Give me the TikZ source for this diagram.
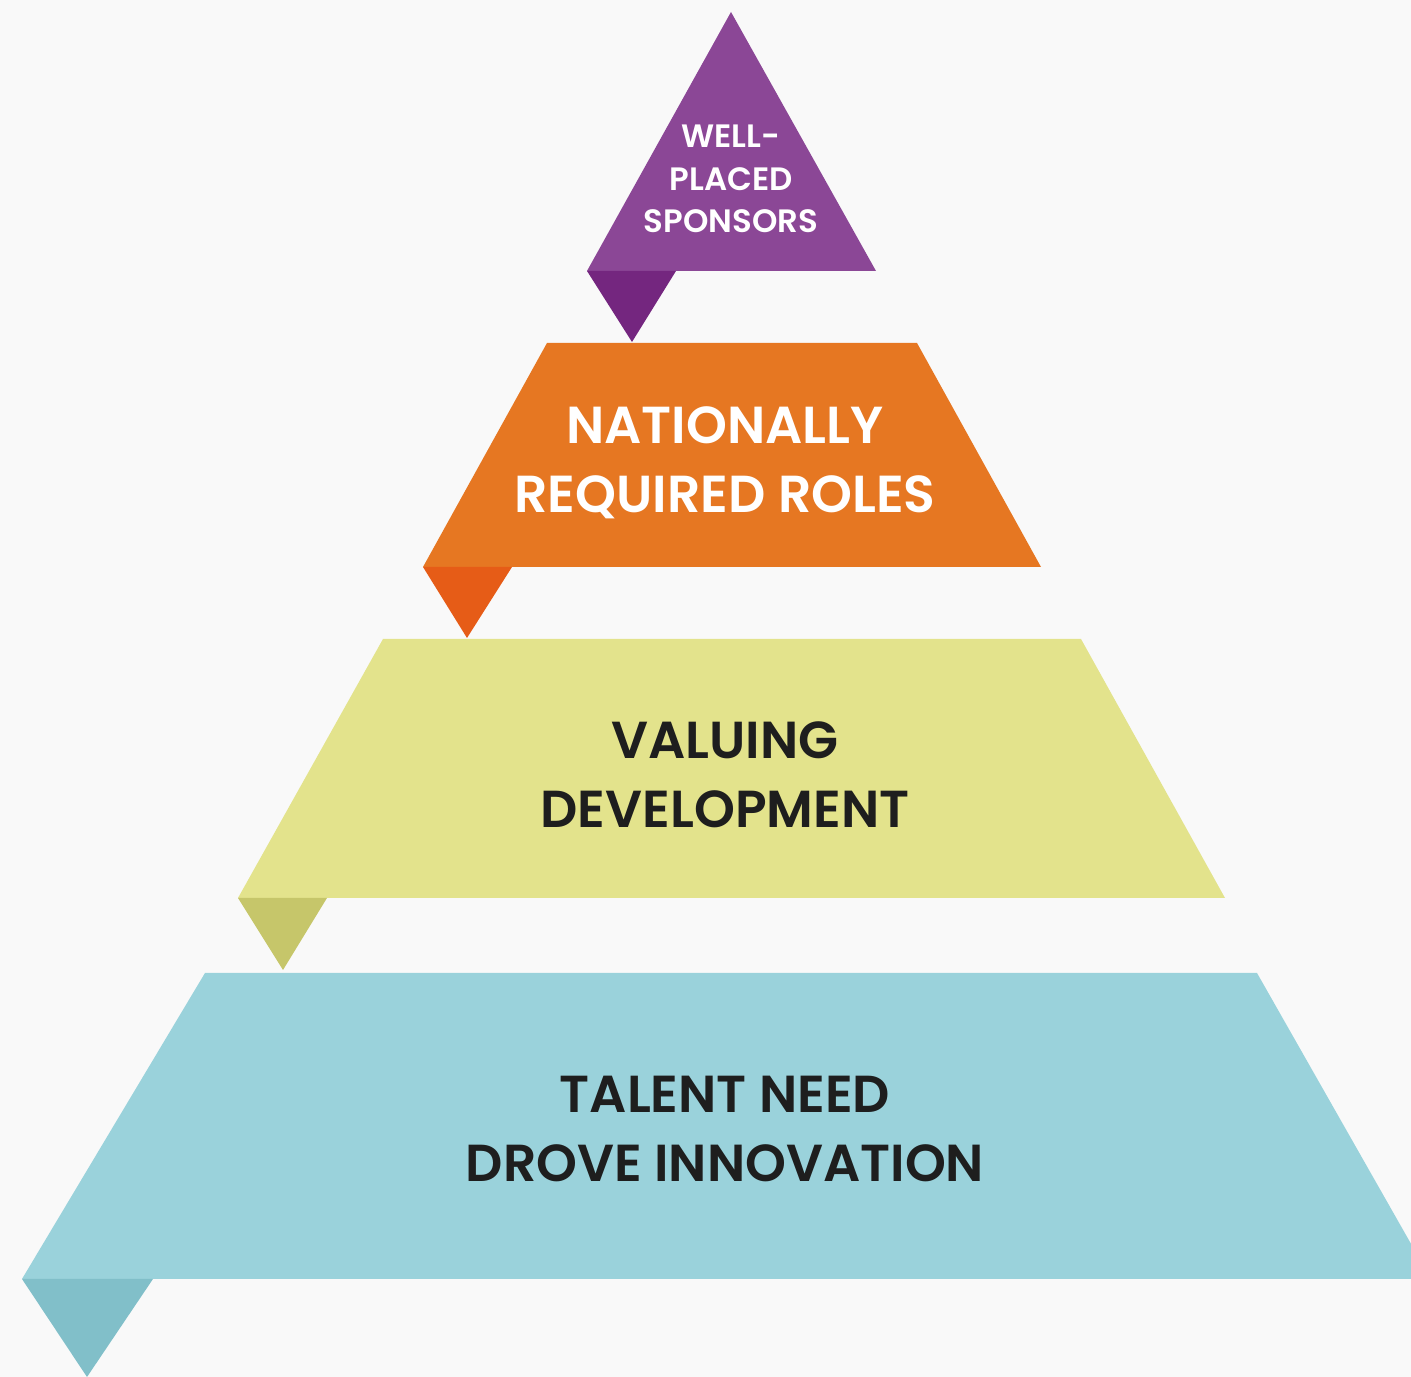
\documentclass[tikz,border=0pt]{standalone}
\usepackage{fontspec}
\setmainfont{Poppins}[BoldFont={Poppins SemiBold}]
\begin{document}
\begin{tikzpicture}[x=0.01cm,y=-0.01cm,
  lbl/.style={align=center,inner sep=0pt,font=\bfseries},
  bigtxt/.style={lbl,font=\fontsize{14.8}{19.6}\selectfont\bfseries}]
\definecolor{bg}{HTML}{F9F9F9}
\definecolor{purp}{HTML}{8B4796}
\definecolor{purpd}{HTML}{74267F}
\definecolor{orng}{HTML}{E67722}
\definecolor{orngd}{HTML}{E65C17}
\definecolor{yell}{HTML}{E3E38C}
\definecolor{yelld}{HTML}{C6C66A}
\definecolor{blu}{HTML}{9AD2DB}
\definecolor{blud}{HTML}{81BFC9}
\definecolor{ink}{HTML}{1E1E1E}
\fill[bg] (0,0) rectangle (1411,1377);
\useasboundingbox (0,0) rectangle (1411,1377);
% top triangle with folded tab
\fill[purp] (731,12) -- (876,271) -- (587,271) -- cycle;
\fill[purpd] (587,271) -- (676,271) -- (632,342) -- cycle;
% second tier
\fill[orng] (547,343) -- (917,343) -- (1041,567) -- (423,567) -- cycle;
\fill[orngd] (423,567) -- (512,567) -- (467,638) -- cycle;
% third tier
\fill[yell] (383,639) -- (1081,639) -- (1225,898) -- (238,898) -- cycle;
\fill[yelld] (238,898) -- (327,898) -- (283,970) -- cycle;
% base tier
\fill[blu] (205,973) -- (1257,973) -- (1431,1279) -- (22,1279) -- cycle;
\fill[blud] (22,1279) -- (153,1279) -- (87,1377) -- cycle;
% labels
\node[lbl,text=white,font=\fontsize{9.2}{12}\selectfont\bfseries] (t1) at (731,179) {WELL-\\PLACED\\SPONSORS};
\node[bigtxt,text=white] (t2) at (725,463) {NATIONALLY\\REQUIRED ROLES};
\node[bigtxt,text=ink] (t3) at (725,775) {VALUING\\DEVELOPMENT};
\node[bigtxt,text=ink] (t4) at (725,1129) {TALENT NEED\\DROVE INNOVATION};
\end{tikzpicture}
\end{document}
